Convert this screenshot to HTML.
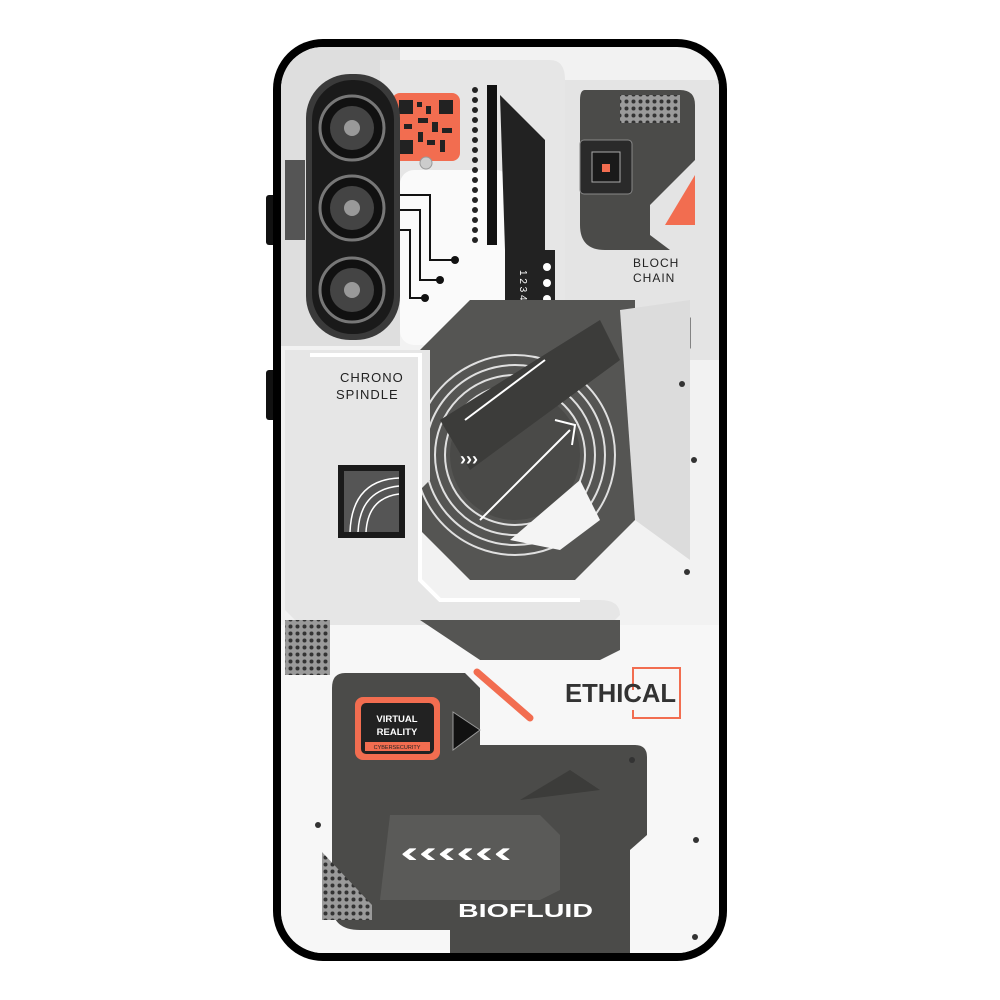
<!DOCTYPE html>
<html><head><meta charset="utf-8"><style>
html,body{margin:0;padding:0;background:#fff;width:1000px;height:1000px;overflow:hidden}
svg{display:block}
text{font-family:"Liberation Sans",sans-serif}
</style></head><body>
<svg width="1000" height="1000" viewBox="0 0 1000 1000" xmlns="http://www.w3.org/2000/svg">
<defs>
<clipPath id="c"><rect x="281" y="47" width="438" height="906" rx="42"/></clipPath>
<pattern id="dots" width="7" height="7" patternUnits="userSpaceOnUse"><rect width="7" height="7" fill="#9a9a9a"/><circle cx="3.5" cy="3.5" r="2" fill="#333"/></pattern>
</defs>
<rect x="266" y="195" width="10" height="50" rx="3" fill="#111"/>
<rect x="266" y="370" width="10" height="50" rx="3" fill="#111"/>
<rect x="273" y="39" width="454" height="922" rx="50" fill="#000"/>
<g clip-path="url(#c)">
<rect x="280" y="46" width="440" height="908" fill="#f2f2f2"/>
<rect x="280" y="46" width="120" height="300" fill="#dedede"/>
<rect x="285" y="160" width="20" height="80" fill="#555"/>
<path d="M380 60 H550 Q565 60 565 80 V300 H420 L400 280 V200 H380 Z" fill="#e6e6e6"/>
<rect x="400" y="170" width="110" height="175" rx="14" fill="#fafafa"/>
<rect x="392" y="93" width="68" height="68" rx="8" fill="#f26d50"/>
<g fill="#222">
<rect x="399" y="100" width="14" height="14"/><rect x="439" y="100" width="14" height="14"/><rect x="399" y="140" width="14" height="14"/>
<rect x="417" y="102" width="5" height="5"/><rect x="426" y="106" width="5" height="8"/><rect x="418" y="118" width="10" height="5"/>
<rect x="404" y="124" width="8" height="5"/><rect x="432" y="122" width="6" height="10"/><rect x="442" y="128" width="10" height="5"/>
<rect x="418" y="132" width="5" height="10"/><rect x="427" y="140" width="8" height="5"/><rect x="440" y="140" width="5" height="12"/>
</g>
<circle cx="426" cy="163" r="6" fill="#ccc" stroke="#999"/>
<g fill="#222">
<circle cx="475" cy="90" r="3"/><circle cx="475" cy="100" r="3"/><circle cx="475" cy="110" r="3"/><circle cx="475" cy="120" r="3"/><circle cx="475" cy="130" r="3"/><circle cx="475" cy="140" r="3"/><circle cx="475" cy="150" r="3"/><circle cx="475" cy="160" r="3"/><circle cx="475" cy="170" r="3"/><circle cx="475" cy="180" r="3"/><circle cx="475" cy="190" r="3"/><circle cx="475" cy="200" r="3"/><circle cx="475" cy="210" r="3"/><circle cx="475" cy="220" r="3"/><circle cx="475" cy="230" r="3"/><circle cx="475" cy="240" r="3"/>
</g>
<rect x="487" y="85" width="10" height="160" fill="#111"/>
<path d="M500 95 L545 140 V250 H505 Z" fill="#222"/>
<rect x="505" y="250" width="50" height="80" fill="#222"/>
<g fill="#fff"><circle cx="547" cy="267" r="4"/><circle cx="547" cy="283" r="4"/><circle cx="547" cy="299" r="4"/><circle cx="547" cy="315" r="4"/></g>
<text x="520" y="270" font-size="10" fill="#fff" transform="rotate(90 520 270)">1 2 3 4</text>
<g stroke="#111" stroke-width="2" fill="none">
<path d="M400 195 H430 V260 H455"/><path d="M400 210 H420 V280 H440"/><path d="M400 230 H410 V298 H425"/>
</g>
<g fill="#111"><circle cx="455" cy="260" r="4"/><circle cx="440" cy="280" r="4"/><circle cx="425" cy="298" r="4"/></g>
<rect x="306" y="74" width="94" height="266" rx="44" fill="#3a3a3a"/>
<rect x="312" y="80" width="82" height="254" rx="40" fill="#1a1a1a"/>
<g>
<circle cx="352" cy="128" r="32" fill="#111" stroke="#777" stroke-width="3"/><circle cx="352" cy="128" r="22" fill="#444"/><circle cx="352" cy="128" r="8" fill="#999"/>
<circle cx="352" cy="208" r="32" fill="#111" stroke="#777" stroke-width="3"/><circle cx="352" cy="208" r="22" fill="#444"/><circle cx="352" cy="208" r="8" fill="#999"/>
<circle cx="352" cy="290" r="32" fill="#111" stroke="#777" stroke-width="3"/><circle cx="352" cy="290" r="22" fill="#444"/><circle cx="352" cy="290" r="8" fill="#999"/>
</g>
<rect x="565" y="80" width="155" height="280" fill="#e4e4e4"/>
<path d="M585 90 H680 Q695 90 695 105 V160 L650 205 V235 L670 250 H605 Q580 250 580 225 V100 Q580 90 585 90 Z" fill="#4b4b49"/>
<rect x="620" y="95" width="60" height="28" fill="url(#dots)"/>
<rect x="580" y="140" width="52" height="54" rx="4" fill="#2a2a2a" stroke="#888"/>
<rect x="592" y="152" width="28" height="30" fill="#1a1a1a" stroke="#aaa"/>
<rect x="602" y="164" width="8" height="8" fill="#f26d50"/>
<path d="M695 175 V225 H665 Z" fill="#f26d50"/>
<text x="633" y="267" font-size="12" fill="#222" letter-spacing="1">BLOCH</text>
<text x="633" y="282" font-size="12" fill="#222" letter-spacing="1">CHAIN</text>
<rect x="643" y="318" width="47" height="30" fill="#fff" stroke="#222"/>
<g stroke="#222" stroke-width="1.5"><path d="M647 322V332M650 322V332M653 322V332M657 322V332M660 322V332M664 322V332M668 322V332M671 322V332M675 322V332M679 322V332M683 322V332"/></g>
<text x="652" y="345" font-size="11" font-weight="bold" fill="#222">X801</text>
<path d="M470 300 H635 V520 L575 580 H470 L420 530 V350 Z" fill="#555553"/>
<path d="M620 310 L690 300 V560 L635 520 Z" fill="#dcdcdc"/>
<g fill="none" stroke="#e0e0e0" stroke-width="2">
<circle cx="515" cy="455" r="100"/><circle cx="515" cy="455" r="90"/><circle cx="515" cy="455" r="80"/><circle cx="515" cy="455" r="70"/>
</g>
<circle cx="515" cy="455" r="65" fill="#4a4a48"/>
<path d="M440 420 L600 320 L620 360 L470 470 Z" fill="#3c3c3a"/>
<path d="M510 540 L580 480 L600 520 L560 550 Z" fill="#f4f4f4"/>
<g stroke="#fff" stroke-width="2" fill="none"><path d="M465 420 L545 360"/><path d="M480 520 L570 430 M555 420 L575 425 L572 445"/></g>
<text x="460" y="465" font-size="18" fill="#fff" font-weight="bold">›››</text>
<path d="M285 350 H430 V480 L420 490 V580 L440 600 H600 Q620 600 620 615 L610 625 H300 L285 610 Z" fill="#e6e6e6"/>
<path d="M310 355 H420 V580 L440 600 H580" fill="none" stroke="#fff" stroke-width="4"/>
<text x="340" y="382" font-size="13" fill="#222" letter-spacing="1">CHRONO</text>
<text x="336" y="399" font-size="13" fill="#222" letter-spacing="1">SPINDLE</text>
<rect x="338" y="465" width="67" height="73" fill="#1a1a1a"/>
<rect x="344" y="471" width="55" height="61" fill="#555"/>
<g fill="none" stroke="#fff" stroke-width="1.5"><path d="M350 532 Q352 480 399 478"/><path d="M358 532 Q360 490 399 486"/><path d="M366 532 Q368 498 399 494"/></g>
<rect x="280" y="625" width="440" height="330" fill="#f7f7f7"/>
<path d="M420 620 H620 V650 L600 660 H480 Z" fill="#555553"/>
<rect x="285" y="620" width="45" height="55" fill="url(#dots)"/>
<line x1="477" y1="672" x2="530" y2="718" stroke="#f26d50" stroke-width="7" stroke-linecap="round"/>
<path d="M633 690 V668 H680 V718 H633 V710" fill="none" stroke="#f26d50" stroke-width="2"/>
<text x="565" y="702" font-size="26" font-weight="bold" fill="#333" textLength="111" lengthAdjust="spacingAndGlyphs">ETHICAL</text>
<path d="M345 673 H465 L480 688 V745 H635 Q647 745 647 757 V835 L630 850 V954 H450 V930 H360 Q332 930 332 905 V688 Q332 673 345 673 Z" fill="#4b4b49"/>
<path d="M390 815 H540 L560 835 V890 L540 900 H380 Z" fill="#5a5a58"/>
<path d="M520 800 L570 770 L600 790 Z" fill="#3c3c3a"/>
<rect x="355" y="697" width="85" height="63" rx="8" fill="#f26d50"/>
<rect x="361" y="703" width="73" height="51" rx="5" fill="#222"/>
<text x="397" y="722" font-size="9.5" font-weight="bold" fill="#fff" text-anchor="middle">VIRTUAL</text>
<text x="397" y="735" font-size="9.5" font-weight="bold" fill="#fff" text-anchor="middle">REALITY</text>
<rect x="365" y="742" width="65" height="9" fill="#f26d50"/>
<text x="397" y="749" font-size="5.5" fill="#222" text-anchor="middle">CYBERSECURITY</text>
<path d="M453 712 L480 730 L453 750 Z" fill="#111" stroke="#999"/>
<text x="400" y="862" font-size="30" font-weight="bold" fill="#fff" textLength="112" lengthAdjust="spacingAndGlyphs">‹‹‹‹‹‹</text>
<text x="458" y="917" font-size="18" font-weight="bold" fill="#fff" textLength="135" lengthAdjust="spacingAndGlyphs">BIOFLUID</text>
<path d="M322 852 L372 905 V920 H322 Z" fill="url(#dots)"/>
<g fill="#333"><circle cx="682" cy="384" r="3"/><circle cx="694" cy="460" r="3"/><circle cx="687" cy="572" r="3"/><circle cx="632" cy="760" r="3"/><circle cx="318" cy="825" r="3"/><circle cx="696" cy="840" r="3"/><circle cx="695" cy="937" r="3"/></g>
</g>
</svg>
</body></html>
